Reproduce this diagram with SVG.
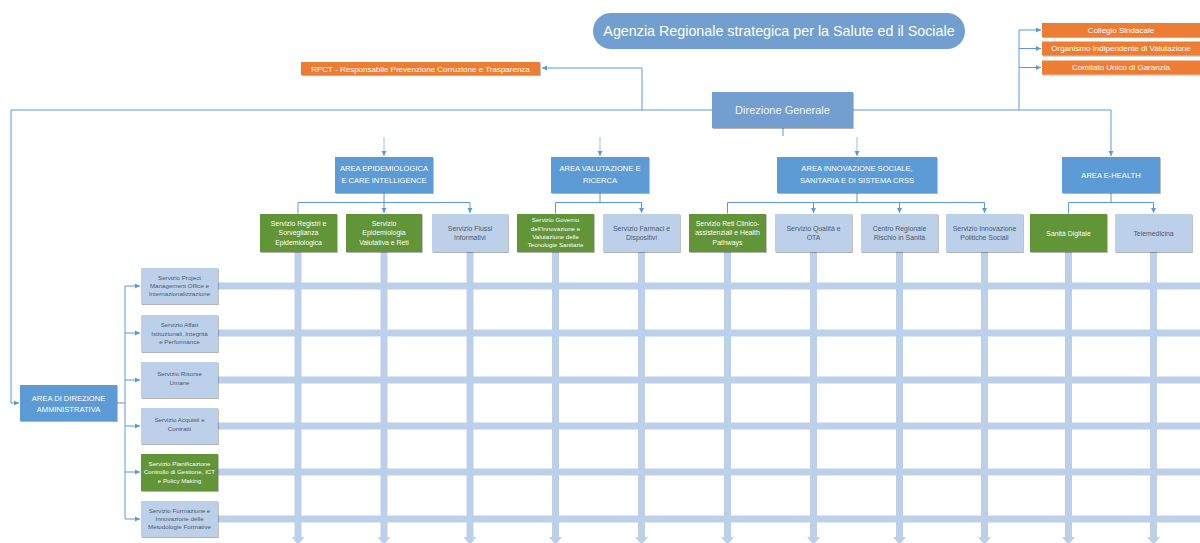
<svg xmlns="http://www.w3.org/2000/svg" width="1200" height="543" viewBox="0 0 1200 543">
<defs>
<style>
text{font-family:"Liberation Sans",Arial,sans-serif;text-anchor:middle}
.ln{fill:none;stroke:#5b9bd5;stroke-width:1}
.lnl{fill:none;stroke:#9dc3e6;stroke-width:1}
.area{fill:#5b9bd5}
.green{fill:#629437}
.light{fill:#bdd0e9}
.org{fill:#ed7d31}
.tw{fill:#ffffff}
.td{fill:#4a5872}
.bar{fill:#bdd0e9}
.a7{font-size:7.6px}
.s7{font-size:6.9px}
.s6{font-size:6.2px}
.o8{font-size:8px}
</style>
<filter id="sh" x="-10%" y="-10%" width="130%" height="140%">
<feDropShadow dx="0.8" dy="1" stdDeviation="0.7" flood-color="#000" flood-opacity="0.3"/>
</filter>
<marker id="arr" markerWidth="6" markerHeight="6" refX="5" refY="3" orient="auto" markerUnits="userSpaceOnUse">
<path d="M0,0.5 L5,3 L0,5.5 z" fill="#5b9bd5"/>
</marker>
</defs>
<rect width="1200" height="543" fill="#ffffff"/>

<!-- grid bars -->
<g id="grid">
<rect class="bar" x="218" y="282.5" width="982" height="7"/>
<rect class="bar" x="218" y="329.5" width="982" height="7"/>
<rect class="bar" x="218" y="376.5" width="982" height="7"/>
<rect class="bar" x="218" y="422.5" width="982" height="7"/>
<rect class="bar" x="218" y="468.5" width="982" height="7"/>
<rect class="bar" x="218" y="515.5" width="982" height="7"/>
<g id="vbars">
<rect class="bar" x="294.5" y="252" width="7" height="286"/>
<rect class="bar" x="380.5" y="252" width="7" height="286"/>
<rect class="bar" x="466.5" y="252" width="7" height="286"/>
<rect class="bar" x="552" y="252" width="7" height="286"/>
<rect class="bar" x="638" y="252" width="7" height="286"/>
<rect class="bar" x="724" y="252" width="7" height="286"/>
<rect class="bar" x="810" y="252" width="7" height="286"/>
<rect class="bar" x="896" y="252" width="7" height="286"/>
<rect class="bar" x="981" y="252" width="7" height="286"/>
<rect class="bar" x="1065" y="252" width="7" height="286"/>
<rect class="bar" x="1150" y="252" width="7" height="286"/>
<polygon class="bar" points="291.5,537 304.5,537 298,545"/>
<polygon class="bar" points="377.5,537 390.5,537 384,545"/>
<polygon class="bar" points="463.5,537 476.5,537 470,545"/>
<polygon class="bar" points="549,537 562,537 555.5,545"/>
<polygon class="bar" points="635,537 648,537 641.5,545"/>
<polygon class="bar" points="721,537 734,537 727.5,545"/>
<polygon class="bar" points="807,537 820,537 813.5,545"/>
<polygon class="bar" points="893,537 906,537 899.5,545"/>
<polygon class="bar" points="978,537 991,537 984.5,545"/>
<polygon class="bar" points="1062,537 1075,537 1068.5,545"/>
<polygon class="bar" points="1147,537 1160,537 1153.5,545"/>
</g>
</g>

<!-- connectors -->
<g id="connectors">
<path class="ln" d="M712,110 H11 V403 H19" marker-end="url(#arr)"/>
<path class="ln" d="M642,110 V68 H542" marker-end="url(#arr)"/>
<path class="ln" d="M853,110 H1111 V156" marker-end="url(#arr)"/>
<path class="ln" d="M1019,110 V30 H1041" marker-end="url(#arr)"/>
<path class="ln" d="M1019,48.5 H1041" marker-end="url(#arr)"/>
<path class="ln" d="M1019,67.5 H1041" marker-end="url(#arr)"/>
<path class="ln" d="M783,128 V136"/>
<path class="lnl" d="M384,137 V156" marker-end="url(#arr)"/>
<path class="lnl" d="M600,137 V156" marker-end="url(#arr)"/>
<path class="lnl" d="M857,137 V156" marker-end="url(#arr)"/>
<!-- area to services -->
<path class="ln" d="M384,193 V202.5"/>
<path class="ln" d="M298,213 V202.5 H470 V213" marker-end="url(#arr)" marker-start="url(#arr)"/>
<path class="ln" d="M384,202.5 V213" marker-end="url(#arr)"/>
<path class="ln" d="M600,193 V202.5"/>
<path class="ln" d="M555.5,213 V202.5 H641.5 V213" marker-end="url(#arr)" marker-start="url(#arr)"/>
<path class="ln" d="M857,193 V202.5"/>
<path class="ln" d="M727.5,213 V202.5 H984.5 V213" marker-end="url(#arr)" marker-start="url(#arr)"/>
<path class="ln" d="M813.5,202.5 V213" marker-end="url(#arr)"/>
<path class="ln" d="M899.5,202.5 V213" marker-end="url(#arr)"/>
<path class="ln" d="M1111,193 V202.5"/>
<path class="ln" d="M1068.5,213 V202.5 H1153.5 V213" marker-end="url(#arr)" marker-start="url(#arr)"/>
<!-- left bracket -->
<path class="ln" d="M117,403 H125"/>
<path class="ln" d="M125,286 V519"/>
<path class="ln" d="M125,286 H140" marker-end="url(#arr)"/>
<path class="ln" d="M125,333 H140" marker-end="url(#arr)"/>
<path class="ln" d="M125,380 H140" marker-end="url(#arr)"/>
<path class="ln" d="M125,426 H140" marker-end="url(#arr)"/>
<path class="ln" d="M125,472 H140" marker-end="url(#arr)"/>
<path class="ln" d="M125,519 H140" marker-end="url(#arr)"/>
</g>

<!-- title -->
<g id="title">
<rect x="593" y="13" width="372" height="36" rx="18" fill="#729fcf"/>
<text x="779" y="36" style="font-size:14.3px" class="tw">Agenzia Regionale strategica per la Salute ed il Sociale</text>
</g>

<!-- orange boxes -->
<g id="rpct">
<rect class="org" x="301" y="62" width="239" height="13" filter="url(#sh)"/>
<text class="tw o8" x="420.5" y="71.5">RPCT - Responsabile Prevenzione Corruzione e Trasparenza</text>
</g>
<g id="collegio">
<rect class="org" x="1042" y="23" width="158" height="14" filter="url(#sh)"/>
<text class="tw o8" x="1121" y="32.8">Collegio Sindacale</text>
</g>
<g id="oiv">
<rect class="org" x="1042" y="41.5" width="158" height="14" filter="url(#sh)"/>
<text class="tw o8" x="1121" y="51.3">Organismo Indipendente di Valutazione</text>
</g>
<g id="cug">
<rect class="org" x="1042" y="60.5" width="158" height="14" filter="url(#sh)"/>
<text class="tw o8" x="1121" y="70.3">Comitato Unico di Garanzia</text>
</g>

<!-- Direzione Generale -->
<g id="direzione">
<rect x="712" y="92" width="141" height="36" fill="#729fcf" filter="url(#sh)"/>
<text x="782.5" y="114" style="font-size:11px" fill="#f2f2f2">Direzione Generale</text>
</g>

<!-- areas -->
<g id="area-epi">
<rect class="area" x="335" y="157" width="98" height="36" filter="url(#sh)"/>
<text class="tw a7" x="384" y="171">AREA EPIDEMIOLOGICA</text>
<text class="tw a7" x="384" y="183">E CARE INTELLIGENCE</text>
</g>
<g id="area-val">
<rect class="area" x="551" y="157" width="98" height="36" filter="url(#sh)"/>
<text class="tw a7" x="600" y="171">AREA VALUTAZIONE E</text>
<text class="tw a7" x="600" y="183">RICERCA</text>
</g>
<g id="area-inn">
<rect class="area" x="777" y="157" width="160" height="36" filter="url(#sh)"/>
<text class="tw a7" x="857" y="171">AREA INNOVAZIONE SOCIALE,</text>
<text class="tw a7" x="857" y="183">SANITARIA E DI SISTEMA CRSS</text>
</g>
<g id="area-eh">
<rect class="area" x="1062" y="157" width="98" height="36" filter="url(#sh)"/>
<text class="tw a7" x="1111" y="177.5">AREA E-HEALTH</text>
</g>
<g id="area-amm">
<rect class="area" x="20" y="385" width="97" height="36" filter="url(#sh)"/>
<text class="tw a7" x="68.5" y="400.5">AREA DI DIREZIONE</text>
<text class="tw a7" x="68.5" y="412">AMMINISTRATIVA</text>
</g>

<!-- top services -->
<g id="s-registri">
<rect class="green" x="260" y="214" width="77" height="38" filter="url(#sh)"/>
<text class="tw s7" x="298.5" y="225.5">Servizio Registri e</text>
<text class="tw s7" x="298.5" y="235.3">Sorveglianza</text>
<text class="tw s7" x="298.5" y="245.1">Epidemiologica</text>
</g>
<g id="s-epid">
<rect class="green" x="346" y="214" width="76" height="38" filter="url(#sh)"/>
<text class="tw s7" x="384" y="225.5">Servizio</text>
<text class="tw s7" x="384" y="235.3">Epidemiologia</text>
<text class="tw s7" x="384" y="245.1">Valutativa e Reti</text>
</g>
<g id="s-flussi">
<rect class="light" x="432" y="214" width="76" height="38" filter="url(#sh)"/>
<text class="td s7" x="470" y="230.5">Servizio Flussi</text>
<text class="td s7" x="470" y="240.3">Informativi</text>
</g>
<g id="s-governo">
<rect class="green" x="517" y="214" width="77" height="38" filter="url(#sh)"/>
<text class="tw s6" x="555.5" y="222.3">Servizio Governo</text>
<text class="tw s6" x="555.5" y="230.5">dell'Innovazione e</text>
<text class="tw s6" x="555.5" y="238.7">Valutazione delle</text>
<text class="tw s6" x="555.5" y="246.9">Tecnologie Sanitarie</text>
</g>
<g id="s-farmaci">
<rect class="light" x="603" y="214" width="77" height="38" filter="url(#sh)"/>
<text class="td s7" x="641.5" y="230.5">Servizio Farmaci e</text>
<text class="td s7" x="641.5" y="240.3">Dispositivi</text>
</g>
<g id="s-reti">
<rect class="green" x="689" y="214" width="77" height="38" filter="url(#sh)"/>
<text class="tw s7" x="727.5" y="225.5">Servizio Reti Clinico-</text>
<text class="tw s7" x="727.5" y="235.3">assistenziali e Health</text>
<text class="tw s7" x="727.5" y="245.1">Pathways</text>
</g>
<g id="s-qualita">
<rect class="light" x="775" y="214" width="77" height="38" filter="url(#sh)"/>
<text class="td s7" x="813.5" y="230.5">Servizio Qualità e</text>
<text class="td s7" x="813.5" y="240.3">OTA</text>
</g>
<g id="s-rischio">
<rect class="light" x="861" y="214" width="77" height="38" filter="url(#sh)"/>
<text class="td s7" x="899.5" y="230.5">Centro Regionale</text>
<text class="td s7" x="899.5" y="240.3">Rischio in Sanità</text>
</g>
<g id="s-politiche">
<rect class="light" x="946" y="214" width="77" height="38" filter="url(#sh)"/>
<text class="td s7" x="984.5" y="230.5">Servizio Innovazione</text>
<text class="td s7" x="984.5" y="240.3">Politiche Sociali</text>
</g>
<g id="s-digitale">
<rect class="green" x="1030" y="214" width="77" height="38" filter="url(#sh)"/>
<text class="tw s7" x="1068.5" y="235.5">Sanità Digitale</text>
</g>
<g id="s-tele">
<rect class="light" x="1115" y="214" width="77" height="38" filter="url(#sh)"/>
<text class="td s7" x="1153.5" y="235.5">Telemedicina</text>
</g>

<!-- left services -->
<g id="l-pmo">
<rect class="light" x="141" y="268" width="77" height="36" filter="url(#sh)"/>
<text class="td s6" x="179.5" y="279.8">Servizio Project</text>
<text class="td s6" x="179.5" y="288">Management Office e</text>
<text class="td s6" x="179.5" y="296.2">Internazionalizzazione</text>
</g>
<g id="l-affari">
<rect class="light" x="141" y="315" width="77" height="37" filter="url(#sh)"/>
<text class="td s6" x="179.5" y="327.3">Servizio Affari</text>
<text class="td s6" x="179.5" y="335.5">Istituzionali, Integrità</text>
<text class="td s6" x="179.5" y="343.7">e Performance</text>
</g>
<g id="l-risorse">
<rect class="light" x="141" y="362" width="77" height="36" filter="url(#sh)"/>
<text class="td s6" x="179.5" y="376.3">Servizio Risorse</text>
<text class="td s6" x="179.5" y="385.3">Umane</text>
</g>
<g id="l-acquisti">
<rect class="light" x="141" y="408" width="77" height="36" filter="url(#sh)"/>
<text class="td s6" x="179.5" y="422.3">Servizio Acquisti e</text>
<text class="td s6" x="179.5" y="431.3">Contratti</text>
</g>
<g id="l-pianificazione">
<rect class="green" x="141" y="454" width="77" height="37" filter="url(#sh)"/>
<text class="tw s6" x="179.5" y="466.2">Servizio Pianificazione</text>
<text class="tw s6" x="179.5" y="474.4">Controllo di Gestione, ICT</text>
<text class="tw s6" x="179.5" y="482.6">e Policy Making</text>
</g>
<g id="l-formazione">
<rect class="light" x="141" y="501" width="77" height="36" filter="url(#sh)"/>
<text class="td s6" x="179.5" y="512.8">Servizio Formazione e</text>
<text class="td s6" x="179.5" y="521">Innovazione delle</text>
<text class="td s6" x="179.5" y="529.2">Metodologie Formative</text>
</g>
</svg>
